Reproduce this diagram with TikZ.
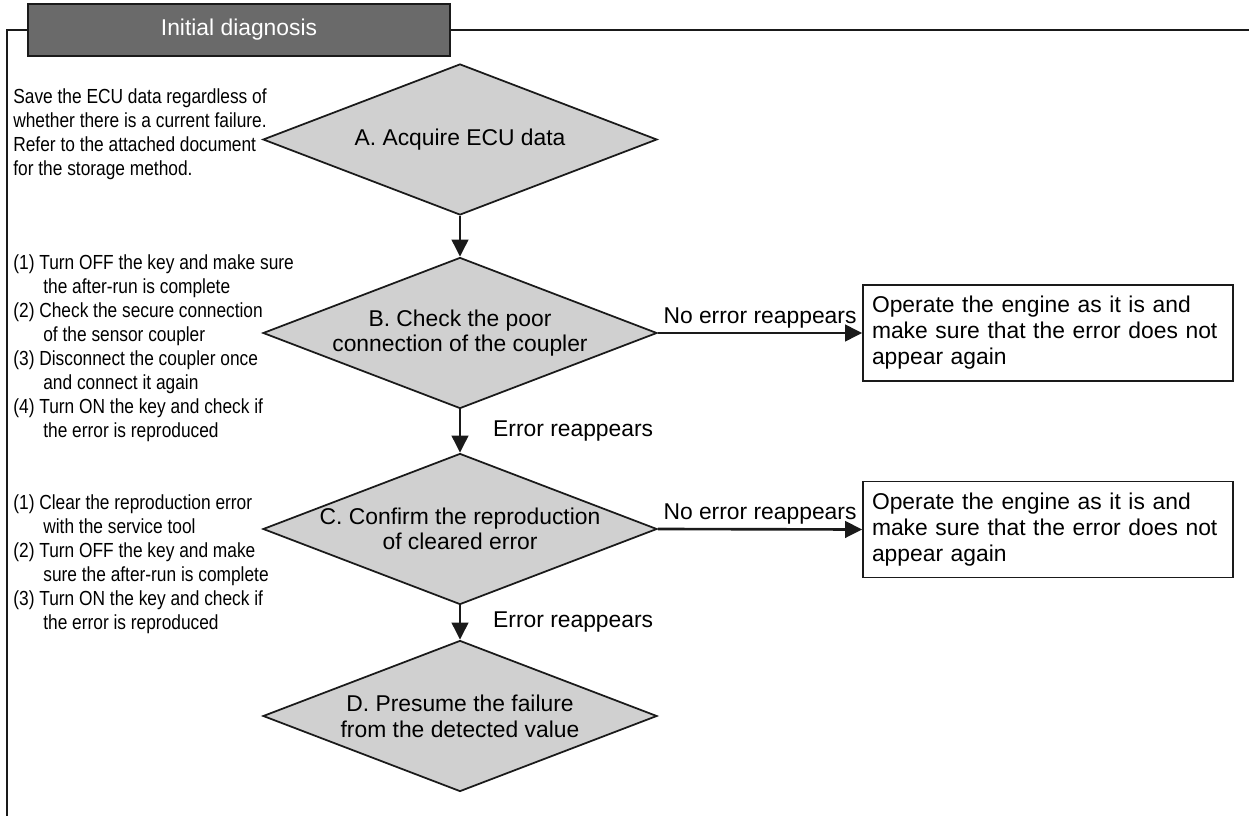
\documentclass[tikz,border=0pt]{standalone}
\usepackage{fontspec}
\setmainfont{Liberation Sans}
\newfontfamily\noteFont[FakeStretch=0.85]{Liberation Sans}
\usetikzlibrary{arrows.meta,positioning,shapes.geometric}
\definecolor{titleGray}{HTML}{6A6A6A}
\definecolor{diamondGray}{HTML}{D0D0D0}
\definecolor{lineBlack}{HTML}{1A1A1A}
\newcommand{\indentNote}{\hspace*{0.6cm}}
\tikzset{
  decision/.style={diamond,draw=lineBlack,line width=1pt,fill=diamondGray,
    minimum width=7.88cm,minimum height=3.02cm,inner sep=0pt},
  inside/.style={align=center,font=\fontsize{13}{14.6}\selectfont},
  result/.style={draw=lineBlack,line width=1pt,text width=7.04cm,inner sep=0.18cm,
    minimum height=1.92cm,align=left,font=\fontsize{13}{14.8}\selectfont},
  note/.style={anchor=west,align=left,inner sep=0pt,font=\noteFont\fontsize{11.6}{13.7}\selectfont},
  flow/.style={draw=lineBlack,line width=1.5pt,-{Triangle[length=0.34cm,width=0.33cm]}},
  lbl/.style={font=\fontsize{13}{15}\selectfont},
  frame/.style={draw=lineBlack,line width=0.9pt}
}

\begin{document}
\begin{tikzpicture}
\useasboundingbox (0,0) rectangle (24.98,-16.32);
% title bar and frame
\node[draw=lineBlack,line width=1pt,fill=titleGray,minimum width=8.44cm,minimum height=1.04cm,
  text=white,font=\fontsize{13}{15}\selectfont] (title) at (4.78,-0.6) {Initial diagnosis};
\coordinate (corner) at (0.14,-0.6);
\coordinate (frameEnd) at (24.98,-0.6);
\coordinate (frameBottom) at (0.14,-16.32);
\draw[frame] (title.west) -- (corner) -- (frameBottom);
\draw[frame] (title.east) -- (frameEnd);

% decisions
\node[decision,label={[inside]center:A. Acquire ECU data}] (acquire) at (9.2,-2.79) {};
\node[decision,label={[inside]center:B. Check the poor\\connection of the coupler}] (coupler) at (9.2,-6.66) {};
\node[decision,label={[inside]center:C. Confirm the reproduction\\of cleared error}] (confirm) at (9.2,-10.58) {};
\node[decision,label={[inside]center:D. Presume the failure\\from the detected value}] (presume) at (9.2,-14.32) {};

% results
\node[result] (okB) at (20.96,-6.66) {Operate the engine as it is and\\make sure that the error does not\\appear again};
\node[result] (okC) at (20.96,-10.59) {Operate the engine as it is and\\make sure that the error does not\\appear again};

% notes on the left
\node[note] (noteA) at (0.26,-2.68) {Save the ECU data regardless of\\whether there is a current failure.\\Refer to the attached document\\for the storage method.};
\node[note] (noteB) at (0.26,-6.96) {(1) Turn OFF the key and make sure\\\indentNote the after-run is complete\\(2) Check the secure connection\\\indentNote of the sensor coupler\\(3) Disconnect the coupler once\\\indentNote and connect it again\\(4) Turn ON the key and check if\\\indentNote the error is reproduced};
\node[note] (noteC) at (0.26,-11.28) {(1) Clear the reproduction error\\\indentNote with the service tool\\(2) Turn OFF the key and make\\\indentNote sure the after-run is complete\\(3) Turn ON the key and check if\\\indentNote the error is reproduced};

% connectors
\draw[flow] (acquire.south) -- (coupler.north);
\draw[flow] (coupler.south) -- node[lbl,right=0.52cm] {Error reappears} (confirm.north);
\draw[flow] (confirm.south) -- node[lbl,right=0.52cm] {Error reappears} (presume.north);
\draw[flow] (coupler.east) -- node[lbl,above,inner sep=2pt] {No error reappears} (okB.west);
\draw[flow] (confirm.east) -- node[lbl,above,inner sep=2pt] {No error reappears} (okC.west);
\end{tikzpicture}
\end{document}
